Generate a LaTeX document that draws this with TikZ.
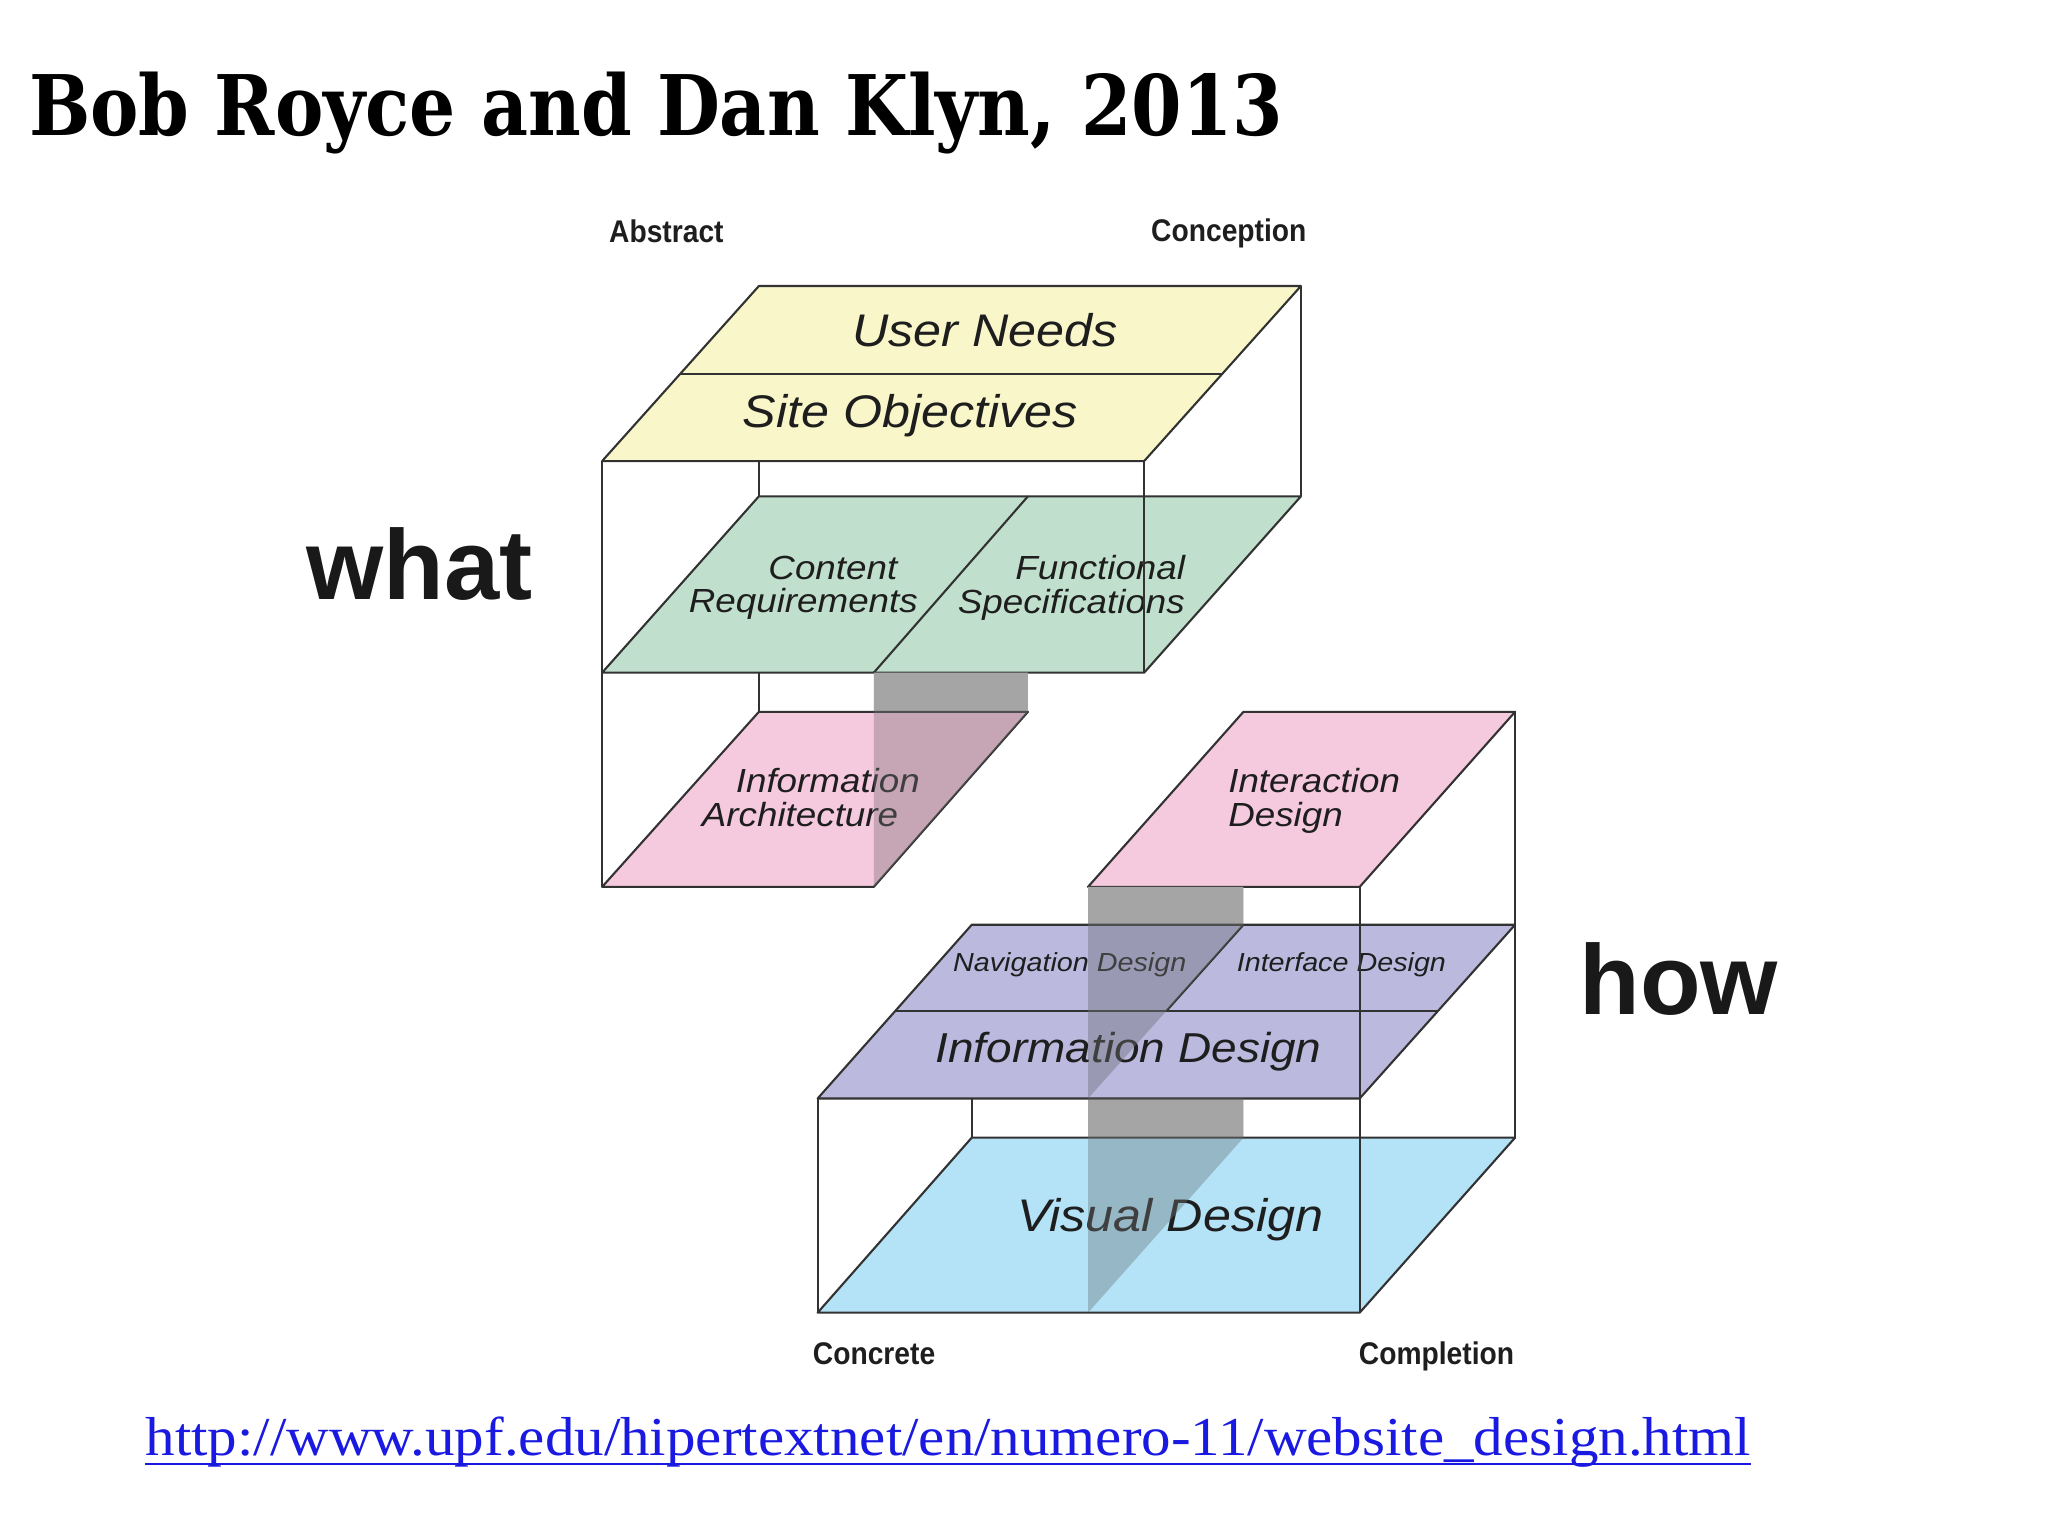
\documentclass[tikz,border=0pt]{standalone}
\usepackage{fontspec}
\setmainfont{Liberation Sans}
\newfontfamily\titlefont{DejaVu Serif}
\newfontfamily\urlfont{Liberation Serif}
\usetikzlibrary{calc}
\definecolor{cyel}{RGB}{249,247,201}
\definecolor{cgreen}{RGB}{192,224,205}
\definecolor{cpink}{RGB}{246,202,222}
\definecolor{cpinkt}{RGB}{240,167,200}
\definecolor{cpurplet}{RGB}{143,140,200}
\definecolor{cbluet}{RGB}{130,208,240}
\definecolor{cline}{RGB}{50,50,50}
\definecolor{cshaft}{RGB}{165,165,165}
\definecolor{ctext}{RGB}{30,30,30}
\definecolor{curl}{RGB}{25,25,225}
\newcommand\sxa[1]{\scalebox{1.1}[1]{#1}}
\newcommand\sxb[1]{\scalebox{0.9}[1]{#1}}
\newcommand\twol[3]{\sxa{\begin{tabular}{@{}l@{}}\hspace*{#1}#2\\#3\end{tabular}}}
\begin{document}
\begin{tikzpicture}[x=0.5pt,y=-0.5pt,
  plane/.style={draw=cline, line width=0.8pt, line join=round},
  tplane/.style={draw=cline, line width=0.8pt, line join=round, fill opacity=0.6},
  edge/.style={draw=cline, line width=0.8pt},
  shaft/.style={fill=cshaft},
  veil/.style={fill=cshaft, fill opacity=0.25},
  bigl/.style={font=\fontsize{17.5pt}{20pt}\selectfont\itshape, text=ctext, inner sep=0pt},
  midl/.style={font=\fontsize{12.8pt}{12pt}\selectfont\itshape, text=ctext, inner sep=0pt, anchor=west},
  smalll/.style={font=\fontsize{10pt}{12pt}\selectfont\itshape, text=ctext, inner sep=0pt},
  corner/.style={font=\fontsize{12pt}{14pt}\selectfont\bfseries, text=ctext, inner sep=0pt, anchor=base west},
  side/.style={font=\fontsize{38pt}{40pt}\selectfont\bfseries, text=black!90, inner sep=0pt, anchor=base west}
]
\useasboundingbox (0,0) rectangle (1568,1176);
\fill[white] (0,0) rectangle (1568,1176);

% title
\node[inner sep=0pt, anchor=base west, font=\titlefont\bfseries\fontsize{32pt}{36pt}\selectfont] (title) at (22,104)
  {\resizebox{480pt}{\height}{Bob Royce and Dan Klyn, 2013}};

% ---------- upper box (what) ----------
\draw[edge] (461,353) -- (461,679);
\draw[edge] (581,353) -- (581,380);
\draw[edge] (581,515) -- (581,545);
\draw[edge] (996,219) -- (996,380);
\filldraw[plane, fill=cyel] (581,219) -- (996,219) -- (876,353) -- (461,353) -- cycle;
\draw[edge] (521,286) -- (936,286);
\filldraw[plane, fill=cgreen] (581,380) -- (996,380) -- (876,515) -- (461,515) -- cycle;
\draw[edge] (787,380) -- (669,515);
\fill[shaft] (669,515) -- (787,515) -- (787,545) -- (669,679) -- cycle;
\filldraw[tplane, fill=cpinkt] (581,545) -- (787,545) -- (669,679) -- (461,679) -- cycle;

\node[bigl] (un) at (754,253) {\sxa{User Needs}};
\node[bigl] (so) at (697,318) {\sxa{Site Objectives}};
\node[midl] (cr) at (527,451) {\twol{27.7pt}{Content}{Requirements}};
\node[midl] (fs) at (733,451) {\twol{20pt}{Functional}{Specifications}};
\node[midl] (ia) at (537,614) {\twol{11.8pt}{Information}{Architecture}};

\fill[veil] (669,515) -- (787,515) -- (787,545) -- (669,679) -- cycle;
\draw[edge] (876,353) -- (876,515);

% ---------- lower box (how) ----------
\draw[edge] (1160,545) -- (1160,871);
\draw[edge] (626,841) -- (626,1005);
\draw[edge] (744,841) -- (744,871);
\filldraw[plane, fill=cpink] (952,545) -- (1160,545) -- (1041,679) -- (833,679) -- cycle;
\fill[shaft] (833,679) -- (952,679) -- (952,708) -- (833,841) -- cycle;
\fill[shaft] (833,841) -- (952,841) -- (952,871) -- (833,1005) -- cycle;
\filldraw[tplane, fill=cpurplet] (744,708) -- (1160,708) -- (1041,841) -- (626,841) -- cycle;
\draw[edge] (685,774) -- (1100,774);
\draw[edge] (952,708) -- (893,774);
\filldraw[tplane, fill=cbluet] (744,871) -- (1160,871) -- (1041,1005) -- (626,1005) -- cycle;

\node[midl] (id) at (940,614) {\twol{0pt}{Interaction}{Design}};
\node[smalll] (nd) at (819,739) {\sxa{Navigation Design}};
\node[smalll] (ifd) at (1027,739) {\sxa{Interface Design}};
\node[font=\fontsize{16pt}{18pt}\selectfont\itshape, text=ctext, inner sep=0pt] (infd) at (864,805) {\sxa{Information Design}};
\node[bigl] (vd) at (896,934) {\sxa{Visual Design}};

\fill[veil] (833,679) -- (952,679) -- (952,708) -- (833,841) -- cycle;
\fill[veil] (833,841) -- (952,841) -- (952,871) -- (833,1005) -- cycle;
\draw[edge] (1041,679) -- (1041,1005);

% ---------- corner and side labels ----------
\node[corner] (abs) at (466,186) {\sxb{Abstract}};
\node[corner] (conc) at (881,185) {\sxb{Conception}};
\node[corner] (cret) at (622,1045) {\sxb{Concrete}};
\node[corner] (comp) at (1040,1045) {\sxb{Completion}};
\node[side] (what) at (234,459) {what};
\node[side] (how) at (1209,777) {how};

% ---------- url ----------
\node[inner sep=0pt, anchor=base west, text=curl, font=\urlfont\fontsize{21pt}{24pt}\selectfont] (url) at (111,1114)
  {\resizebox{614.5pt}{\height}{http://www.upf.edu/hipertextnet/en/numero-11/website\_design.html}};
\draw[curl, line width=1pt] ($(url.base west)+(0,7)$) -- ($(url.base east)+(0,7)$);
\end{tikzpicture}
\end{document}
